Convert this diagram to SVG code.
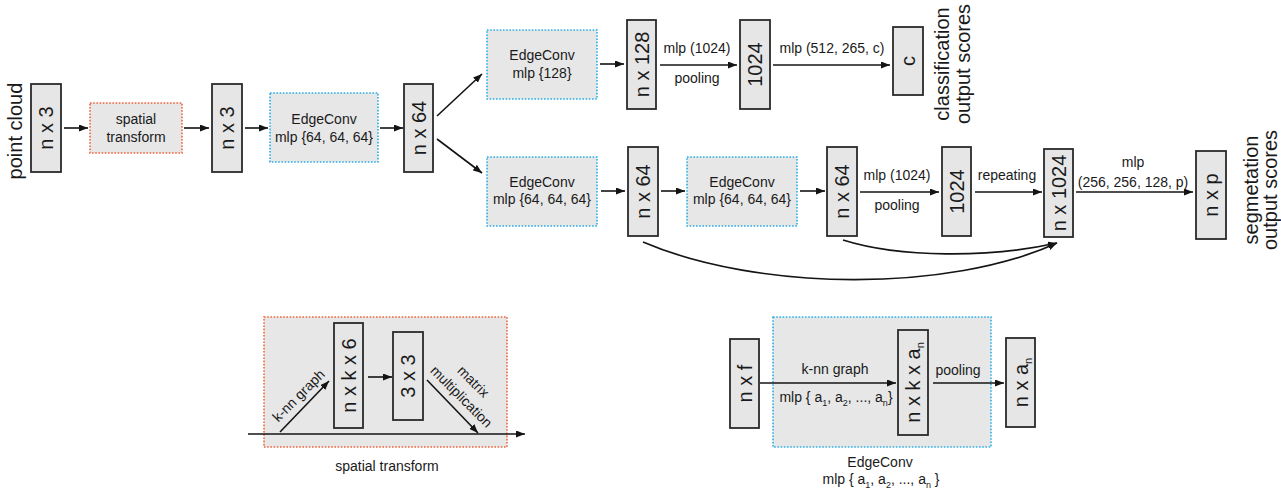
<svg xmlns="http://www.w3.org/2000/svg" width="1281" height="492" viewBox="0 0 1281 492">
  <style>
    text { font-family: "Liberation Sans", Arial, sans-serif; fill: #1a1a1a; }
    .lbl { font-size: 14px; text-anchor: middle; }
    .dim { font-size: 20px; text-anchor: middle; }
    .title { font-size: 20px; text-anchor: middle; }
    .box { fill: #e6e6e6; stroke: #2a2a2a; stroke-width: 1.8; }
    .st { fill: #e7e7e7; stroke: #f0643c; stroke-width: 1.6; stroke-dasharray: 1.6 1.6; }
    .ec { fill: #e7e7e7; stroke: #2aaee6; stroke-width: 1.6; stroke-dasharray: 1.6 1.6; }
    .edge { fill: none; stroke: #141414; stroke-width: 1.6; marker-end: url(#arrow); }
  </style>
  <defs>
    <marker id="arrow" markerUnits="userSpaceOnUse" markerWidth="9" markerHeight="7" refX="9" refY="3.5" orient="auto">
      <path d="M0,0 L9,3.5 L0,7 z" fill="#141414"/>
    </marker>
  </defs>

  <rect width="1281" height="492" fill="#ffffff"/>

  <!-- main pipeline: input -->
  <g id="point-cloud-label">
    <text class="title" transform="translate(22,131) rotate(-90)">point cloud</text>
  </g>
  <g id="input-nx3">
    <rect class="box" x="31" y="84" width="30" height="88"/>
    <text class="dim" transform="translate(46,128) rotate(-90)" y="7">n x 3</text>
  </g>
  <g id="spatial-transform">
    <rect class="st" x="90" y="103" width="92" height="50"/>
    <text class="lbl" x="136" y="124">spatial</text>
    <text class="lbl" x="136" y="142">transform</text>
  </g>
  <g id="transformed-nx3">
    <rect class="box" x="212" y="84" width="30" height="88"/>
    <text class="dim" transform="translate(227,128) rotate(-90)" y="7">n x 3</text>
  </g>
  <g id="edgeconv-1">
    <rect class="ec" x="270" y="93" width="108" height="69"/>
    <text class="lbl" x="324" y="124">EdgeConv</text>
    <text class="lbl" x="324" y="142">mlp {64, 64, 64}</text>
  </g>
  <g id="feat-nx64">
    <rect class="box" x="404" y="84" width="29" height="88"/>
    <text class="dim" transform="translate(418.5,128) rotate(-90)" y="7">n x 64</text>
  </g>

  <!-- classification branch -->
  <g id="edgeconv-128">
    <rect class="ec" x="487" y="30" width="110" height="69"/>
    <text class="lbl" x="542" y="60">EdgeConv</text>
    <text class="lbl" x="542" y="78">mlp {128}</text>
  </g>
  <g id="cls-nx128">
    <rect class="box" x="627" y="20" width="29" height="89"/>
    <text class="dim" transform="translate(641.5,64.5) rotate(-90)" y="7">n x 128</text>
  </g>
  <g id="cls-1024">
    <rect class="box" x="740" y="20" width="30" height="89"/>
    <text class="dim" transform="translate(755,64.5) rotate(-90)" y="7">1024</text>
  </g>
  <g id="cls-c">
    <rect class="box" x="893" y="27" width="30" height="68"/>
    <text class="dim" transform="translate(908,61) rotate(-90)" y="7">c</text>
  </g>
  <g id="cls-title">
    <text class="title" transform="translate(949,64) rotate(-90)">classification</text>
    <text class="title" transform="translate(970,64) rotate(-90)">output scores</text>
  </g>

  <!-- segmentation branch -->
  <g id="edgeconv-seg-1">
    <rect class="ec" x="487" y="157" width="110" height="69"/>
    <text class="lbl" x="542" y="187">EdgeConv</text>
    <text class="lbl" x="542" y="204">mlp {64, 64, 64}</text>
  </g>
  <g id="seg-nx64-a">
    <rect class="box" x="628" y="147" width="30" height="89"/>
    <text class="dim" transform="translate(643,191.5) rotate(-90)" y="7">n x 64</text>
  </g>
  <g id="edgeconv-seg-2">
    <rect class="ec" x="687" y="157" width="110" height="69"/>
    <text class="lbl" x="742" y="187">EdgeConv</text>
    <text class="lbl" x="742" y="204">mlp {64, 64, 64}</text>
  </g>
  <g id="seg-nx64-b">
    <rect class="box" x="827" y="147" width="30" height="89"/>
    <text class="dim" transform="translate(842,191.5) rotate(-90)" y="7">n x 64</text>
  </g>
  <g id="seg-1024">
    <rect class="box" x="942" y="147" width="29" height="89"/>
    <text class="dim" transform="translate(956.5,191.5) rotate(-90)" y="7">1024</text>
  </g>
  <g id="seg-nx1024">
    <rect class="box" x="1044" y="149" width="29" height="88"/>
    <text class="dim" transform="translate(1058.5,193) rotate(-90)" y="7">n x 1024</text>
  </g>
  <g id="seg-nxp">
    <rect class="box" x="1196" y="151" width="30" height="88"/>
    <text class="dim" transform="translate(1211,195) rotate(-90)" y="7">n x p</text>
  </g>
  <g id="seg-title">
    <text class="title" transform="translate(1258,190) rotate(-90)">segmetation</text>
    <text class="title" transform="translate(1277,190) rotate(-90)">output scores</text>
  </g>

  <!-- detail: spatial transform block -->
  <g id="detail-spatial-transform">
    <rect class="st" x="264" y="317" width="243" height="130"/>
    <rect class="box" x="334" y="323" width="29" height="105"/>
    <text class="dim" transform="translate(348.5,375.5) rotate(-90)" y="7">n x k x 6</text>
    <rect class="box" x="393" y="332" width="30" height="88"/>
    <text class="dim" transform="translate(408,376) rotate(-90)" y="7">3 x 3</text>
    <text class="lbl" transform="translate(302,399) rotate(-45)">k-nn graph</text>
    <text class="lbl" transform="translate(470,385) rotate(45)">matrix</text>
    <text class="lbl" transform="translate(458,400) rotate(45)">multiplication</text>
    <text class="lbl" x="387" y="471">spatial transform</text>
  </g>

  <!-- detail: EdgeConv block -->
  <g id="detail-edgeconv">
    <rect class="box" x="730" y="339" width="29" height="89"/>
    <text class="dim" transform="translate(744.5,383.5) rotate(-90)" y="7">n x f</text>
    <rect class="ec" x="773" y="317" width="218" height="130"/>
    <text class="lbl" x="835" y="374">k-nn graph</text>
    <text class="lbl" x="836" y="402">mlp { a<tspan dy="4" font-size="9">1</tspan><tspan dy="-4">, a</tspan><tspan dy="4" font-size="9">2</tspan><tspan dy="-4">, ..., a</tspan><tspan dy="4" font-size="9">n</tspan><tspan dy="-4">}</tspan></text>
    <rect class="box" x="898" y="330" width="30" height="105"/>
    <text class="dim" transform="translate(913,382.5) rotate(-90)" y="7">n x k x a<tspan dy="4" font-size="11">n</tspan></text>
    <text class="lbl" x="958" y="375">pooling</text>
    <rect class="box" x="1006" y="338" width="29" height="89"/>
    <text class="dim" transform="translate(1020.5,382.5) rotate(-90)" y="7">n x a<tspan dy="4" font-size="11">n</tspan></text>
    <text class="lbl" x="880" y="467">EdgeConv</text>
    <text class="lbl" x="881" y="484">mlp { a<tspan dy="4" font-size="9">1</tspan><tspan dy="-4">, a</tspan><tspan dy="4" font-size="9">2</tspan><tspan dy="-4">, ..., a</tspan><tspan dy="4" font-size="9">n</tspan><tspan dy="-4"> }</tspan></text>
  </g>

  <!-- connectors -->
  <g id="connectors">
    <line class="edge" x1="64" y1="128" x2="88" y2="128"/>
    <line class="edge" x1="184" y1="128" x2="209" y2="128"/>
    <line class="edge" x1="245" y1="128" x2="268" y2="128"/>
    <line class="edge" x1="380" y1="128" x2="403" y2="128"/>
    <line class="edge" x1="437" y1="116" x2="482" y2="74"/>
    <line class="edge" x1="437" y1="139" x2="482" y2="173"/>

    <line class="edge" x1="600" y1="64" x2="624" y2="64"/>
    <line class="edge" x1="660" y1="65" x2="737" y2="65"/>
    <text class="lbl" x="697" y="53">mlp (1024)</text>
    <text class="lbl" x="697" y="83">pooling</text>
    <line class="edge" x1="773" y1="65" x2="890" y2="65"/>
    <text class="lbl" x="832" y="53">mlp (512, 265, c)</text>

    <line class="edge" x1="601" y1="191" x2="625" y2="191"/>
    <line class="edge" x1="661" y1="191" x2="685" y2="191"/>
    <line class="edge" x1="800" y1="191" x2="825" y2="191"/>
    <line class="edge" x1="860" y1="192" x2="939" y2="192"/>
    <text class="lbl" x="897" y="180">mlp (1024)</text>
    <text class="lbl" x="897" y="210">pooling</text>
    <line class="edge" x1="975" y1="192" x2="1042" y2="192"/>
    <text class="lbl" x="1007" y="180">repeating</text>
    <line class="edge" x1="1076" y1="192" x2="1193" y2="192"/>
    <text class="lbl" x="1133" y="167">mlp</text>
    <text class="lbl" x="1133" y="187">(256, 256, 128, p)</text>

    <path class="edge" d="M643,242 C760,292 950,292 1057,243"/>
    <path class="edge" d="M843,240 C900,258 990,258 1057,243"/>

    <line class="edge" x1="248" y1="434" x2="525" y2="434"/>
    <line class="edge" x1="280" y1="432" x2="329" y2="381"/>
    <line class="edge" x1="368" y1="377" x2="392" y2="377"/>
    <line class="edge" x1="427" y1="380" x2="478" y2="433"/>

    <line class="edge" x1="760" y1="383" x2="896" y2="383"/>
    <line class="edge" x1="933" y1="383" x2="1004" y2="383"/>
  </g>
</svg>
